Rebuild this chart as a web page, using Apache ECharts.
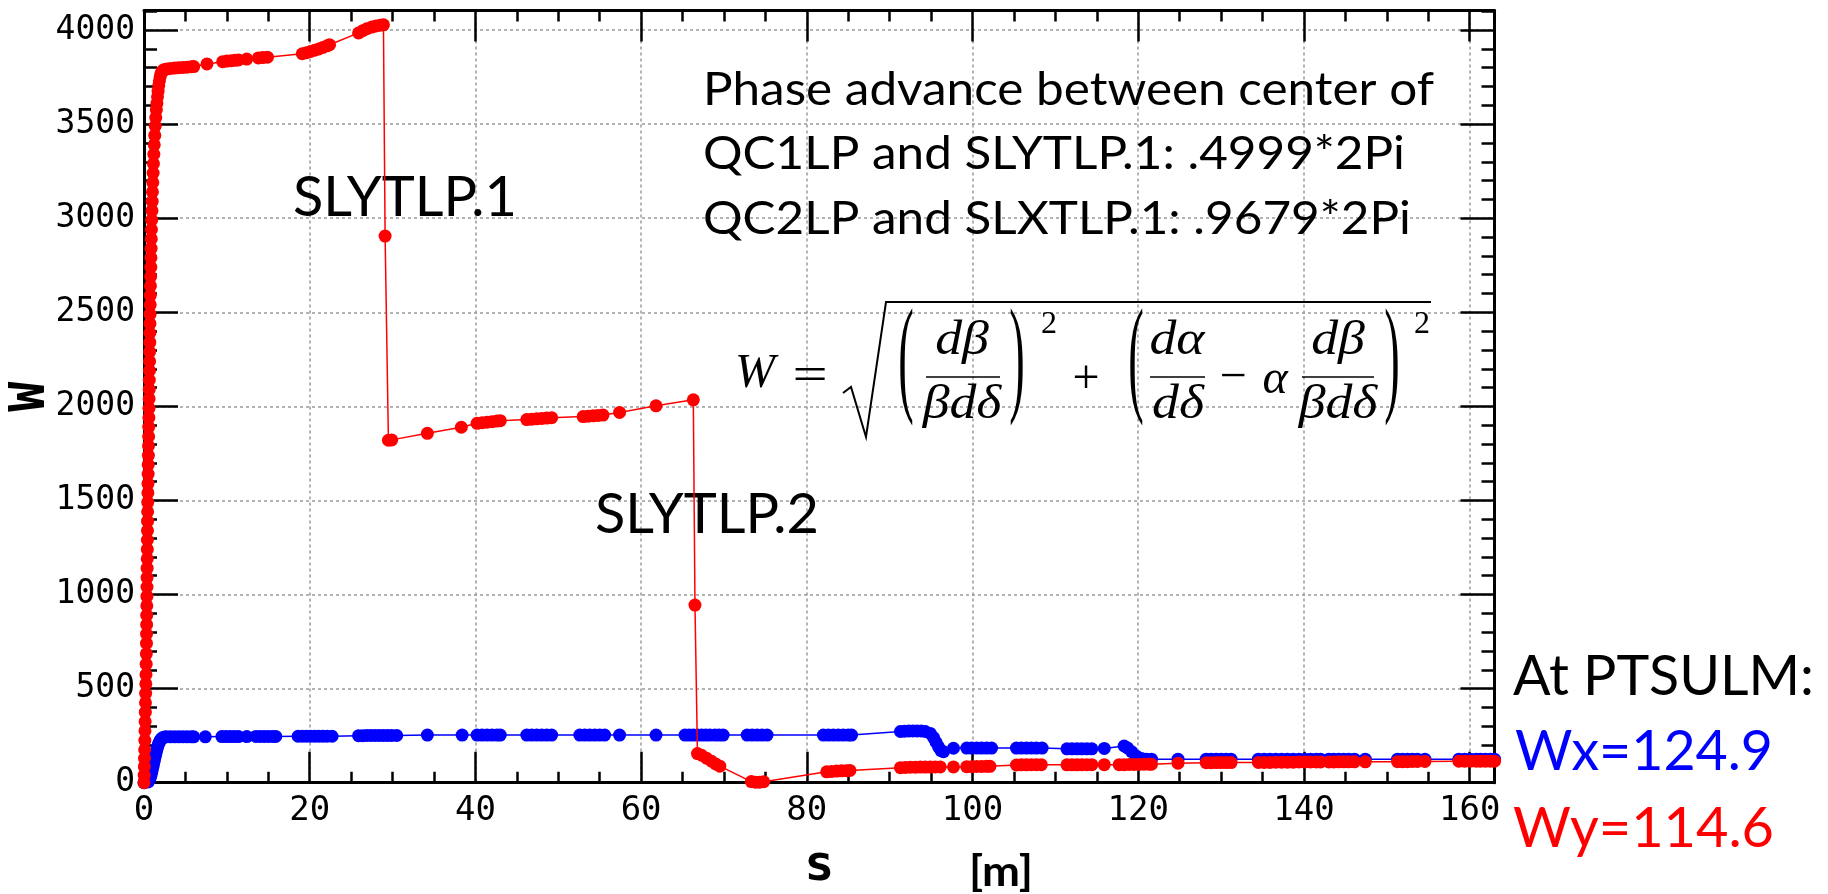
<!DOCTYPE html>
<html><head><meta charset="utf-8">
<script src="https://cdn.jsdelivr.net/npm/echarts@6/dist/echarts.min.js"></script>
<style>html,body{margin:0;padding:0;background:#fff}#c{width:1828px;height:894px}</style>
</head><body><div id="c"></div>
<script>
// ---- data: [s (m), W] ----
const WX_POINTS = [
 [0,0],[0.5,4],[0.6,10],[0.7,20],[0.8,32],[0.87,45],[0.94,58],[1.0,70],[1.07,84],[1.14,98],[1.2,110],[1.27,124],[1.34,138],[1.4,150],[1.47,162],[1.54,174],[1.6,185],[1.68,196],[1.76,206],[1.85,215],[1.95,224],[2.05,231],[2.15,236],[2.3,240],[2.5,243],[2.7,244],
 [3.2,244],[3.7,244],[4.2,244],[4.7,244],[5.2,244],[5.7,244],[6.0,244],
 [7.4,244],
 [9.4,245],[9.9,245],[10.4,245],[10.9,245],[11.4,245],
 [12.4,245],
 [13.5,246],[14.0,246],[14.5,246],[15.0,246],[15.5,246],[15.9,246],
 [18.6,247],[19.1,247],[19.6,247],[20.1,247],[20.6,247],[21.1,247],[21.6,247],[22.1,247],[22.7,247],
 [25.9,250],[26.4,250],[26.9,251],[27.4,251],[27.9,251],[28.4,251],[28.9,251],[29.4,251],[29.9,251],[30.5,251],
 [34.2,253],[38.4,253],
 [40.2,253],[40.8,253],[41.4,253],[42.0,253],[42.6,253],[43.0,253],
 [46.2,253],[46.8,253],[47.4,253],[48.0,253],[48.6,253],[49.2,253],
 [52.6,253],[53.2,253],[53.8,253],[54.4,253],[55.0,253],[55.6,253],
 [57.4,253],[61.8,253],
 [65.3,253],[65.8,253],[66.3,253],[66.8,253],[67.3,253],[67.8,253],[68.3,253],[68.9,253],[69.4,253],[69.9,253],
 [72.8,253],[73.4,253],[74.0,253],[74.6,253],[75.2,253],
 [82.0,253],[82.6,253],[83.2,253],[83.8,253],[84.4,253],[85.0,253],[85.4,253],
 [91.3,272],[91.8,274],[92.3,275],[92.8,275],[93.3,275],[93.8,275],[94.3,272],[94.9,262],
 [95.3,240],[95.6,215],[95.9,190],[96.2,170],[96.5,165],
 [97.7,183],
 [99.3,184],[99.9,184],[100.5,184],[101.1,184],[101.7,184],[102.3,184],
 [105.3,184],[105.9,184],[106.5,184],[107.1,184],[107.7,184],[108.4,184],
 [111.4,180],[112.0,180],[112.6,180],[113.2,180],[113.8,180],[114.4,180],
 [115.9,182],
 [118.3,195],[118.7,185],[119.2,165],
 [119.8,140],[120.4,128],[121.0,125],[121.6,125],
 [124.8,125],
 [128.2,125],[128.8,125],[129.4,125],[130.0,125],[130.6,125],[131.2,125],
 [134.5,125],[135.2,125],[135.9,125],[136.6,125],[137.3,125],[138.0,125],[138.7,125],[139.4,125],[140.1,125],[140.8,125],[141.5,125],[142.0,125],
 [143.0,125],[143.6,125],[144.2,125],[144.8,125],[145.4,125],[146.1,125],
 [147.4,125],
 [151.3,125],[151.9,125],[152.5,125],[153.1,125],[153.7,125],[154.6,125],
 [158.7,125],[159.4,125],[160.1,125],[160.8,125],
 [161.3,125],[161.9,125],[162.5,124.9],[163.0,124.9]
];
const WY_POINTS = [
 [0,0],[0.02,40],[0.04,85],[0.06,130],[0.08,175],[0.1,225],[0.12,275],[0.14,325],[0.16,375],[0.18,425],[0.2,475],
 [0.22,525],[0.24,575],[0.26,630],[0.28,685],[0.3,740],[0.31,790],[0.32,840],[0.33,890],[0.34,940],[0.35,990],
 [0.36,1040],[0.37,1090],[0.38,1140],[0.39,1190],[0.4,1240],[0.41,1290],[0.42,1340],[0.43,1390],[0.44,1440],
 [0.45,1490],[0.47,1540],[0.48,1590],[0.5,1640],[0.51,1690],[0.53,1740],[0.54,1790],[0.56,1840],[0.57,1890],
 [0.59,1940],[0.6,1990],[0.62,2040],[0.63,2090],[0.64,2140],[0.66,2190],[0.67,2240],[0.68,2290],[0.7,2340],
 [0.71,2390],[0.72,2440],[0.73,2490],[0.75,2540],[0.76,2590],[0.78,2640],[0.8,2690],[0.82,2740],[0.84,2790],
 [0.86,2840],[0.88,2890],[0.9,2940],[0.93,2990],[0.96,3040],[0.99,3090],[1.02,3140],[1.06,3190],[1.1,3240],
 [1.14,3290],[1.19,3340],[1.24,3390],[1.3,3440],[1.36,3490],[1.42,3535],[1.49,3575],[1.56,3610],[1.63,3645],
 [1.7,3675],[1.78,3705],[1.86,3730],[1.95,3752],[2.05,3768],[2.18,3780],[2.35,3788],[2.55,3791],[2.75,3793],
 [3.2,3796],[3.7,3798],[4.2,3800],[4.7,3801],[5.2,3803],[5.7,3805],[6.0,3806],
 [7.6,3820],
 [9.5,3832],[10.0,3835],[10.5,3837],[11.0,3839],[11.4,3841],
 [12.4,3846],
 [13.8,3852],[14.3,3854],[14.9,3856],
 [19.1,3874],[19.6,3880],[20.1,3886],[20.6,3893],[21.1,3900],[21.6,3908],[22.1,3916],[22.4,3922],
 [25.9,3985],[26.4,3997],[26.9,4007],[27.5,4016],[28.0,4022],[28.5,4026],[28.9,4028],
 [29.1,2905],
 [29.5,1820],[29.9,1822],
 [34.2,1857],[38.3,1889],
 [40.2,1910],[40.8,1913],[41.4,1916],[42.0,1919],[42.6,1922],[43.0,1924],
 [46.2,1930],[46.8,1932],[47.4,1934],[48.0,1936],[48.6,1938],[49.2,1940],
 [53.0,1946],[53.6,1948],[54.2,1950],[54.8,1952],[55.4,1954],
 [57.4,1968],[61.8,2003],[66.3,2035],
 [66.5,944],
 [66.8,155],[67.3,146],[67.9,130],[68.5,114],[69.0,100],[69.5,88],
 [73.3,6],[73.8,3],[74.3,3],[74.8,5],
 [82.4,58],[83.0,60],[83.6,62],[84.2,63],[84.8,64],[85.2,65],
 [91.3,80],[91.9,81],[92.5,82],[93.1,82],[93.7,83],[94.3,83],[94.9,83],[95.5,84],[96.1,84],
 [97.7,84],
 [99.3,85],[99.9,85],[100.5,86],[101.1,86],[101.7,87],[102.1,87],
 [105.3,94],[105.9,95],[106.5,95],[107.1,96],[107.7,96],[108.3,96],
 [111.4,95],[112.0,95],[112.6,95],[113.2,96],[113.8,96],[114.4,96],
 [115.9,96],
 [117.7,96],[118.3,96],[118.9,97],[119.5,97],[120.1,97],[120.7,98],[121.3,98],[121.6,98],
 [124.8,104],
 [128.2,106],[128.8,106],[129.4,107],[130.0,107],[130.6,107],[131.2,107],
 [134.5,108],[135.2,108],[135.9,108],[136.6,109],[137.3,109],[138.0,109],[138.7,109],[139.4,110],[140.1,110],[140.8,110],[141.5,110],[142.0,110],
 [143.0,110],[143.6,110],[144.2,111],[144.8,111],[145.4,111],[146.1,111],
 [147.4,111],
 [151.3,112],[151.9,112],[152.5,112],[153.1,113],[153.7,113],[154.6,113],
 [158.7,114],[159.4,114],[160.1,114],[160.8,114],
 [161.3,114],[161.9,114.5],[162.5,114.6],[163.0,114.6]
];
const S_MIN = 0, S_MAX = 163.0, S_INTERVAL = 20;
const W_MIN = 0, W_MAX = 4104, W_INTERVAL = 500;
const PHASE_LINES = ['Phase advance between center of', 'QC1LP and SLYTLP.1: .4999*2Pi', 'QC2LP and SLXTLP.1: .9679*2Pi'];
const RESULT_LINES = ['At PTSULM:', 'Wx=124.9', 'Wy=114.6'];
const ELEMENT_LABELS = ['SLYTLP.1', 'SLYTLP.2'];

// ---- helpers ----
const cv = document.createElement('canvas').getContext('2d');
function measure(text, size, family, weight, style) {
  cv.font = (style||'normal') + ' ' + (weight||'normal') + ' ' + size + 'px "' + family + '"';
  return cv.measureText(text).width;
}
const ANN = 'Lato';
function annText(text, x, y, size, targetW, color, weight, align) {
  const w = measure(text, size, ANN, weight);
  return {type:'text', x:x, y:y, scaleX: targetW ? targetW / w : 1, z: 1,
    style:{text:text, fontFamily:ANN, fontSize:size, fontWeight:weight||'normal', fill:color||'#000',
      textAlign:align||'left', align:align||'left', textVerticalAlign:'middle', verticalAlign:'middle'}};
}
const MATH = 'Liberation Serif';
function mt(text, x, y, size, o) {
  o = o || {};
  return {type:'text', x:x, y:y, scaleX:o.sx||1, scaleY:o.sy||1, z: 1,
    style:{text:text, fontFamily:MATH, fontSize:size, fontStyle:o.up?'normal':'italic', fill:'#000',
      textAlign:'center', align:'center', textVerticalAlign:'middle', verticalAlign:'middle'}};
}
function bar(x1, x2, y) {
  return {type:'line', z:1, shape:{x1:x1, y1:y, x2:x2, y2:y}, style:{stroke:'#000', lineWidth:1.6}};
}

const PH_SIZE = 46;
const phScale = 731 / measure(PHASE_LINES[0], PH_SIZE, ANN);
const graphics = [];
PHASE_LINES.forEach(function (t, i) {
  const g = annText(t, 703, 90 + i * 64.5, PH_SIZE, null, '#000');
  g.scaleX = phScale;
  graphics.push(g);
});
graphics.push(annText(ELEMENT_LABELS[0], 293, 198, 57, 224, '#000'));
graphics.push(annText(ELEMENT_LABELS[1], 595, 515, 57, 224, '#000'));
graphics.push(annText(RESULT_LINES[0], 1513, 677, 56, 301, '#000'));
graphics.push(annText(RESULT_LINES[1], 1515, 752, 56, 258, '#0000ff'));
graphics.push(annText(RESULT_LINES[2], 1513, 829, 56, 261, '#ff0000'));
graphics.push(annText('[m]', 1001, 872, 42, 64, '#000', 'bold', 'center'));

// formula
const F = 48, FS = 1.12;
graphics.push(
  mt('W', 755, 374, F),
  mt('=', 810, 377, F, {up:true, sx:1.3}),
  {type:'polyline', z:1, shape:{points:[[843,393],[851,387],[866,437],[886,302],[1431,302]]}, style:{stroke:'#000', lineWidth:2, fill:null}},
  mt('(', 906, 364, 62, {up:true, sy:2.1, sx:0.75}),
  mt('dβ', 962, 341, F, {sx:FS}), bar(926, 1000, 377), mt('βdδ', 962, 405, F, {sx:FS}),
  mt(')', 1017, 364, 62, {up:true, sy:2.1, sx:0.75}),
  mt('2', 1049, 325, 32, {up:true}),
  mt('+', 1086, 380, F, {up:true}),
  mt('(', 1136, 364, 62, {up:true, sy:2.1, sx:0.75}),
  mt('dα', 1177, 341, F, {sx:FS}), bar(1150, 1205, 377), mt('dδ', 1178, 405, F, {sx:FS}),
  mt('\u2212', 1233, 378, F, {up:true}),
  mt('α', 1275, 380, F),
  mt('dβ', 1338, 341, F, {sx:FS}), bar(1302, 1374, 377), mt('βdδ', 1338, 405, F, {sx:FS}),
  mt(')', 1392, 364, 62, {up:true, sy:2.1, sx:0.75}),
  mt('2', 1422, 325, 32, {up:true})
);

const AX = {color:'#000', width:3};
const TICK = {color:'#000', width:2.5};
const MONO = 'DejaVu Sans Mono';
const plain = function (v) { return String(v); };
function xAx(pos, main) {
  return {type:'value', position:pos, min:S_MIN, max:S_MAX, interval:S_INTERVAL,
    axisLine:{show:true, onZero:false, lineStyle:AX},
    axisTick:{show:true, inside:true, length:31, lineStyle:TICK},
    minorTick:{show:true, splitNumber:4, length:11, lineStyle:TICK},
    splitLine:{show:main, lineStyle:{color:'#9a9a9a', type:[3,3], width:1.5}},
    minorSplitLine:{show:false},
    axisLabel:{show:main, fontFamily:MONO, fontSize:34, color:'#000', margin:11, showMaxLabel:false, formatter:plain},
    name: main ? 's' : '', nameLocation:'middle', nameGap:59,
    nameTextStyle:{fontFamily:MONO, fontWeight:'bold', fontSize:50, color:'#000'}};
}
function yAx(pos, main) {
  return {type:'value', position:pos, min:W_MIN, max:W_MAX, interval:W_INTERVAL,
    axisLine:{show:true, onZero:false, lineStyle:AX},
    axisTick:{show:true, inside:true, length:34, lineStyle:TICK},
    minorTick:{show:true, splitNumber:5, length:13, lineStyle:TICK},
    splitLine:{show:main, lineStyle:{color:'#9a9a9a', type:[3,3], width:1.5}},
    minorSplitLine:{show:false},
    axisLabel:{show:main, fontFamily:MONO, fontSize:33, color:'#000', margin:9, showMaxLabel:false, formatter:plain},
    name: main ? 'W' : '', nameLocation:'middle', nameGap:88, nameMoveOverlap:false,
    nameTextStyle:{fontFamily:MONO, fontWeight:'bold', fontSize:50, color:'#000'}};
}

const chart = echarts.init(document.getElementById('c'), null, {renderer:'canvas'});
chart.setOption({
  animation:false,
  backgroundColor:'#fff',
  grid:{left:144, right:333.5, top:10.5, bottom:111.3, containLabel:false, outerBoundsMode:'none'},
  xAxis:[xAx('bottom', true), xAx('top', false)],
  yAxis:[yAx('left', true), yAx('right', false)],
  series:[
    {name:'Wx', type:'line', data:WX_POINTS, xAxisIndex:0, yAxisIndex:0, symbol:'circle', symbolSize:13,
     showSymbol:true, showAllSymbol:true, clip:false, silent:true, itemStyle:{color:'#0000ff'}, lineStyle:{color:'#0000ff', width:1.5}, z:3},
    {name:'Wy', type:'line', data:WY_POINTS, xAxisIndex:0, yAxisIndex:0, symbol:'circle', symbolSize:13,
     showSymbol:true, showAllSymbol:true, clip:false, silent:true, itemStyle:{color:'#ff0000'}, lineStyle:{color:'#ff0000', width:1.5}, z:4}
  ],
  graphic:{elements:graphics}
});
</script></body></html>
